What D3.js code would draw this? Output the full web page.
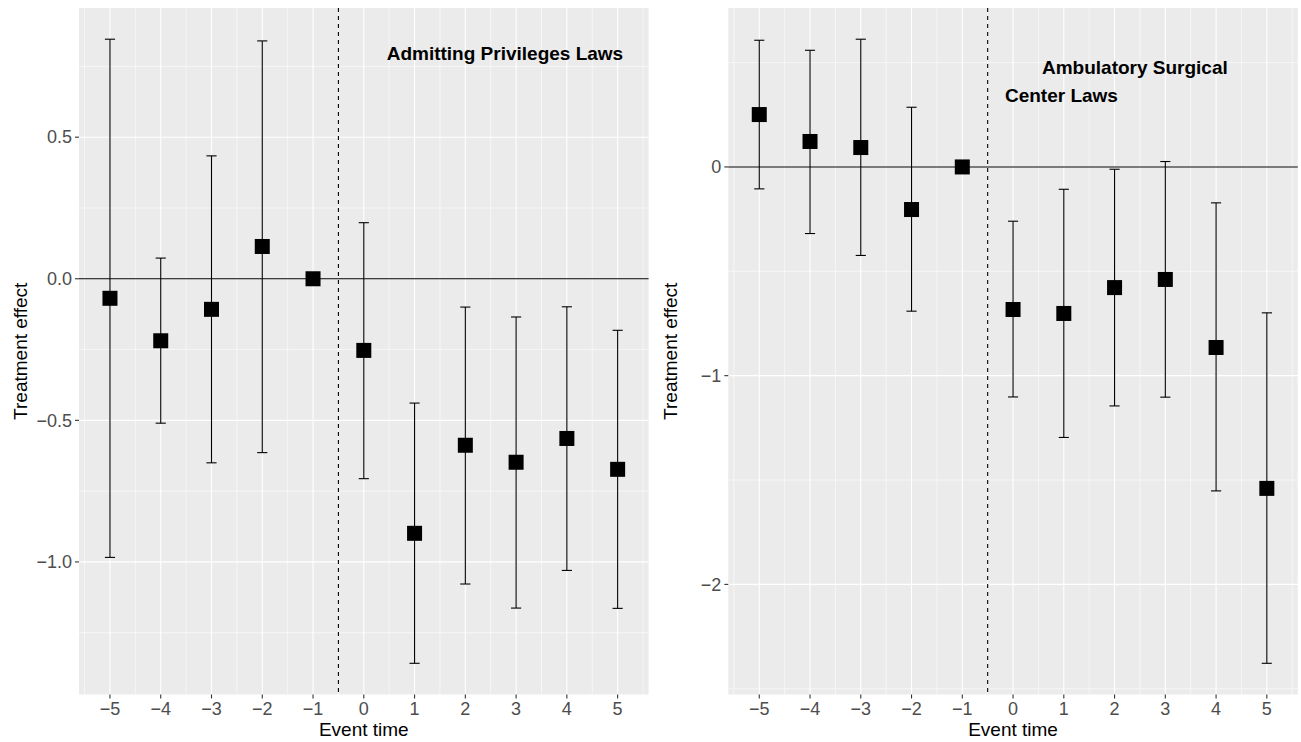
<!DOCTYPE html>
<html>
<head>
<meta charset="utf-8">
<script src="https://cdn.jsdelivr.net/npm/d3@7"></script>
<style>
  html, body { margin: 0; padding: 0; background: #ffffff; }
  svg { display: block; font-family: "Liberation Sans", Arial, Helvetica, sans-serif; }
</style>
</head>
<body>
<svg id="chart" width="1301" height="742"></svg>
<script>
// ---------- data ----------
const eventTime = [-5, -4, -3, -2, -1, 0, 1, 2, 3, 4, 5];

// Admitting Privileges Laws
const apEstimate = [-0.069, -0.219, -0.108, 0.114, 0, -0.253, -0.899, -0.588, -0.648, -0.564, -0.673];
const apLower    = [-0.984, -0.510, -0.650, -0.614, 0, -0.706, -1.358, -1.078, -1.163, -1.030, -1.164];
const apUpper    = [ 0.846,  0.073,  0.434,  0.840, 0,  0.198, -0.439, -0.100, -0.135, -0.099, -0.182];

// Ambulatory Surgical Center Laws
const ascEstimate = [0.251, 0.122, 0.093, -0.204, 0, -0.683, -0.702, -0.578, -0.539, -0.865, -1.540];
const ascLower    = [-0.105, -0.319, -0.424, -0.691, 0, -1.102, -1.296, -1.145, -1.103, -1.552, -2.378];
const ascUpper    = [ 0.607,  0.559,  0.612,  0.286, 0, -0.260, -0.107, -0.011,  0.026, -0.172, -0.699];

const xTicks = [-5, -4, -3, -2, -1, 0, 1, 2, 3, 4, 5];
const apYTicks = [0.5, 0.0, -0.5, -1.0];
const ascYTicks = [0, -1, -2];

const apLabels = [{text: "Admitting Privileges Laws", x: 2.78, y: 0.796}];
const ascLabels = [
  {text: "Ambulatory Surgical", x: 2.40, y: 0.479},
  {text: "Center Laws", x: 0.953, y: 0.343}
];

const xTitle = "Event time";
const yTitle = "Treatment effect";

// ---------- drawing ----------
const svg = d3.select("#chart");
const minus = s => s.replace(/-/g, "\u2212");

function drawPanel(opt) {
  const { left, right, top, bottom, est, lo, hi, yTicks, yFmt, labels, titleX } = opt;
  const g = svg.append("g");
  const capHalf = 0.1;
  const xMin = d3.min(eventTime) - capHalf, xMax = d3.max(eventTime) + capHalf;
  const xPad = (xMax - xMin) * 0.05;
  const x = d3.scaleLinear().domain([xMin - xPad, xMax + xPad]).range([left, right]);
  const yMin = d3.min(lo), yMax = d3.max(hi);
  const yPad = (yMax - yMin) * 0.05;
  const y = d3.scaleLinear().domain([yMin - yPad, yMax + yPad]).range([bottom, top]);

  // background
  g.append("rect").attr("x", left).attr("y", top)
    .attr("width", right - left).attr("height", bottom - top).attr("fill", "#EBEBEB");

  // minor grid
  const yMinor = [];
  for (let i = 0; i < yTicks.length - 1; i++) yMinor.push((yTicks[i] + yTicks[i + 1]) / 2);
  const step = Math.abs(yTicks[0] - yTicks[1]);
  yMinor.push(yTicks[0] + step / 2, yTicks[yTicks.length - 1] - step / 2);
  const dom = y.domain();
  g.selectAll(".ymin").data(yMinor.filter(v => v > dom[0] && v < dom[1])).enter().append("line")
    .attr("x1", left).attr("x2", right).attr("y1", d => y(d)).attr("y2", d => y(d))
    .attr("stroke", "#ffffff").attr("stroke-width", 0.55);
  const xMinor = [];
  for (let v = -5.5; v <= 5.5; v += 1) xMinor.push(v);
  g.selectAll(".xmin").data(xMinor).enter().append("line")
    .attr("y1", top).attr("y2", bottom).attr("x1", d => x(d)).attr("x2", d => x(d))
    .attr("stroke", "#ffffff").attr("stroke-width", 0.55);

  // major grid
  g.selectAll(".ymaj").data(yTicks).enter().append("line")
    .attr("x1", left).attr("x2", right).attr("y1", d => y(d)).attr("y2", d => y(d))
    .attr("stroke", "#ffffff").attr("stroke-width", 1.1);
  g.selectAll(".xmaj").data(xTicks).enter().append("line")
    .attr("y1", top).attr("y2", bottom).attr("x1", d => x(d)).attr("x2", d => x(d))
    .attr("stroke", "#ffffff").attr("stroke-width", 1.1);

  // reference lines
  g.append("line").attr("x1", left).attr("x2", right).attr("y1", y(0)).attr("y2", y(0))
    .attr("stroke", "#000").attr("stroke-width", 1.1);
  g.append("line").attr("x1", x(-0.5)).attr("x2", x(-0.5)).attr("y1", top).attr("y2", bottom)
    .attr("stroke", "#000").attr("stroke-width", 1.1).attr("stroke-dasharray", "4,4");

  // error bars
  const rows = eventTime.map((t, i) => ({ t, e: est[i], l: lo[i], h: hi[i] }));
  const eb = g.selectAll(".eb").data(rows).enter().append("g");
  eb.append("line").attr("x1", d => x(d.t)).attr("x2", d => x(d.t))
    .attr("y1", d => y(d.l)).attr("y2", d => y(d.h)).attr("stroke", "#000").attr("stroke-width", 1.1);
  eb.append("line").attr("x1", d => x(d.t - capHalf)).attr("x2", d => x(d.t + capHalf))
    .attr("y1", d => y(d.l)).attr("y2", d => y(d.l)).attr("stroke", "#000").attr("stroke-width", 1.1);
  eb.append("line").attr("x1", d => x(d.t - capHalf)).attr("x2", d => x(d.t + capHalf))
    .attr("y1", d => y(d.h)).attr("y2", d => y(d.h)).attr("stroke", "#000").attr("stroke-width", 1.1);

  // points
  const sz = 15;
  g.selectAll(".pt").data(rows).enter().append("rect")
    .attr("x", d => x(d.t) - sz / 2).attr("y", d => y(d.e) - sz / 2)
    .attr("width", sz).attr("height", sz).attr("fill", "#000");

  // annotations
  g.selectAll(".lab").data(labels).enter().append("text")
    .attr("x", d => x(d.x)).attr("y", d => y(d.y)).attr("dy", "0.35em")
    .attr("text-anchor", "middle").attr("font-weight", "bold").attr("font-size", 19)
    .attr("fill", "#000").text(d => d.text);

  // y axis
  g.selectAll(".ytk").data(yTicks).enter().append("line")
    .attr("x1", left - 4).attr("x2", left).attr("y1", d => y(d)).attr("y2", d => y(d))
    .attr("stroke", "#333333").attr("stroke-width", 1.1);
  g.selectAll(".ylab").data(yTicks).enter().append("text")
    .attr("x", left - 7).attr("y", d => y(d)).attr("dy", "0.35em")
    .attr("text-anchor", "end").attr("font-size", 18).attr("fill", "#4D4D4D")
    .text(d => minus(d3.format(yFmt)(d)));

  // x axis
  g.selectAll(".xtk").data(xTicks).enter().append("line")
    .attr("y1", bottom).attr("y2", bottom + 4).attr("x1", d => x(d)).attr("x2", d => x(d))
    .attr("stroke", "#333333").attr("stroke-width", 1.1);
  g.selectAll(".xlab").data(xTicks).enter().append("text")
    .attr("x", d => x(d)).attr("y", 709).attr("dy", "0.35em")
    .attr("text-anchor", "middle").attr("font-size", 18).attr("fill", "#4D4D4D")
    .text(d => minus(String(d)));

  // titles
  g.append("text").attr("x", (left + right) / 2).attr("y", 736)
    .attr("text-anchor", "middle").attr("font-size", 19).attr("fill", "#000").text(xTitle);
  g.append("text").attr("transform", `translate(${titleX},${(top + bottom) / 2}) rotate(-90)`)
    .attr("text-anchor", "middle").attr("font-size", 19).attr("fill", "#000").text(yTitle);
}

drawPanel({ left: 79, right: 648.6, top: 8, bottom: 694.5,
  est: apEstimate, lo: apLower, hi: apUpper, yTicks: apYTicks, yFmt: ".1f",
  labels: apLabels, titleX: 26.7 });
drawPanel({ left: 728.3, right: 1297.8, top: 8, bottom: 694.5,
  est: ascEstimate, lo: ascLower, hi: ascUpper, yTicks: ascYTicks, yFmt: "d",
  labels: ascLabels, titleX: 676.7 });
</script>
</body>
</html>
